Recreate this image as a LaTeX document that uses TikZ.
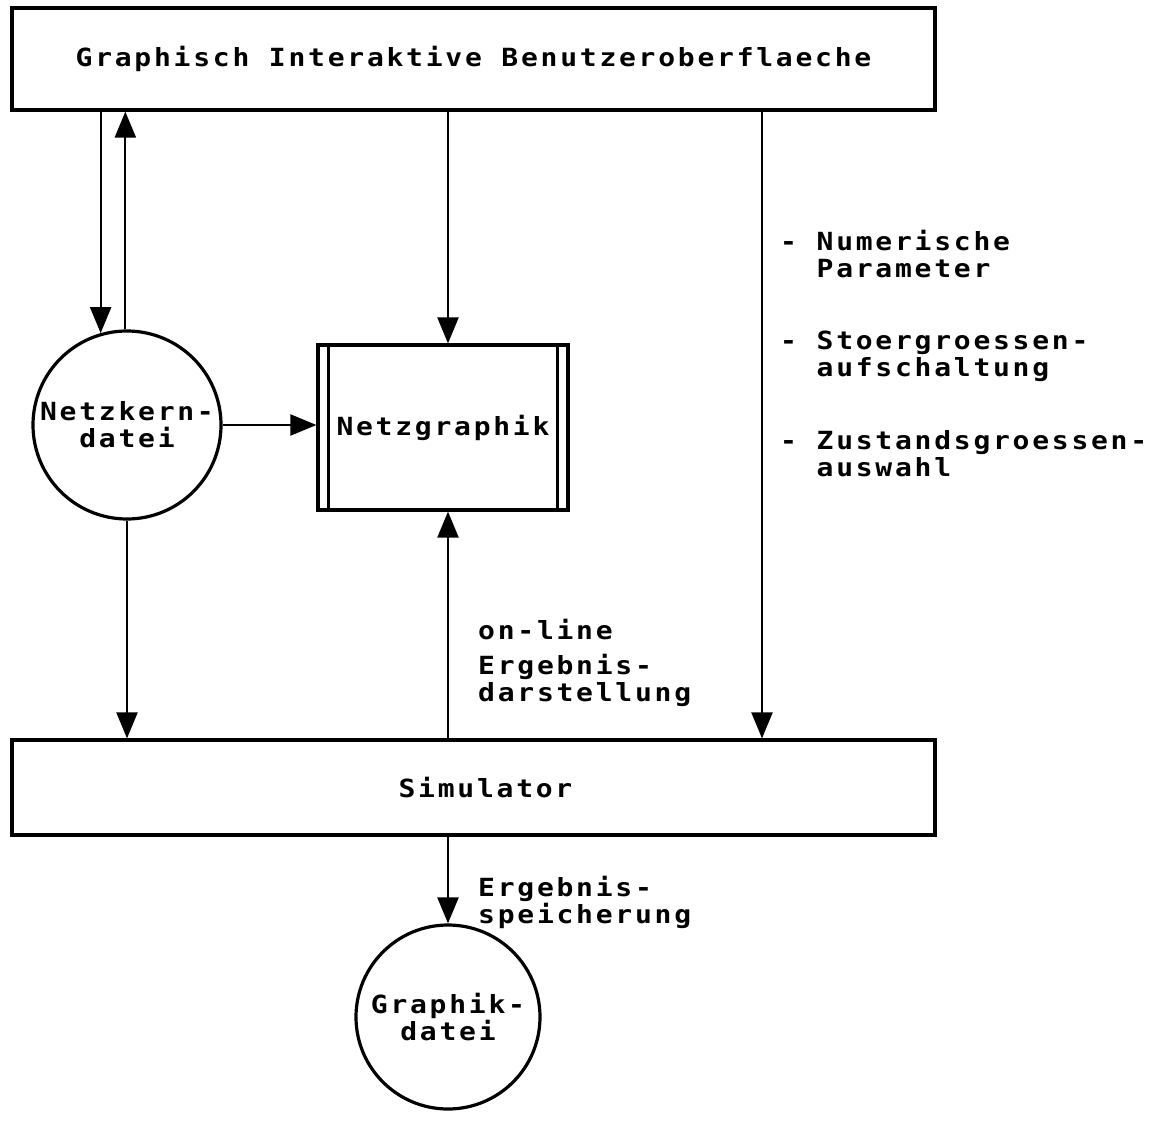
\documentclass[tikz,border=0pt]{standalone}
\usepackage{fontspec}
\newfontfamily\plotfont{DejaVu Sans Mono}[FakeStretch=1.12,LetterSpace=11]
\usetikzlibrary{arrows.meta,calc}
\begin{document}
\begin{tikzpicture}[x=1pt,y=-1pt,
  lbl/.style={font=\plotfont\bfseries\fontsize{25}{27}\selectfont, inner sep=0pt},
  boxst/.style={draw, line width=3.2pt, inner sep=0pt, lbl},
  filest/.style={draw, circle, line width=3.2pt, inner sep=0pt, lbl, align=center},
  conn/.style={line width=2.2pt, -{Triangle[length=26pt,width=21pt]}}]
\useasboundingbox (0,0) rectangle (1154,1121);
\fill[white] (0,0) rectangle (1154,1121);

\node[boxst, minimum width=923pt, minimum height=102pt] (gui) at (473.5,59) {Graphisch Interaktive Benutzeroberflaeche};
\node[filest, minimum size=188pt] (nk) at (127,425) {Netzkern-\\datei};
\node[boxst, minimum width=250pt, minimum height=165pt] (ng) at (443,427.5) {Netzgraphik};
\draw[line width=2.4pt] ([xshift=12pt]ng.north west) -- ([xshift=12pt]ng.south west);
\draw[line width=2.4pt] ([xshift=-12pt]ng.north east) -- ([xshift=-12pt]ng.south east);
\node[boxst, minimum width=923pt, minimum height=95pt] (sim) at (473.5,787.5) {\hspace*{24pt}Simulator};
\node[filest, minimum size=184pt] (gd) at (448,1017) {Graphik-\\datei};

\coordinate (cx) at (448,0);
\coordinate (rx) at (762,0);

\draw[conn] (nk.106.5 |- gui.south) -- (nk.106.5);
\draw[conn] (nk.91.8) -- (nk.91.8 |- gui.south);
\draw[conn] (nk.east) -- (nk.east -| ng.west);
\draw[conn] (gui.south -| cx) -- (ng.north -| cx);
\draw[conn] (sim.north -| cx) -- (ng.south -| cx);
\draw[conn] (nk.south) -- (nk.south |- sim.north);
\draw[conn] (gui.south -| rx) -- (sim.north -| rx);
\draw[conn] (sim.south -| cx) -- (gd.north);

\node[lbl, anchor=west, align=left] (p1) at (780,254) {-~Numerische\\\hphantom{-~}Parameter};
\node[lbl, anchor=west, align=left] (p2) at (780,356) {-~Stoergroessen-\\\hphantom{-~}aufschaltung};
\node[lbl, anchor=west, align=left] (p3) at (780,454) {-~Zustandsgroessen-\\\hphantom{-~}auswahl};

\node[lbl, anchor=west] (ol) at (478,630) {on-line};
\node[lbl, anchor=west, align=left] (ed) at (478,680) {Ergebnis-\\darstellung};
\node[lbl, anchor=west, align=left] (es) at (478,902) {Ergebnis-\\speicherung};
\end{tikzpicture}
\end{document}
